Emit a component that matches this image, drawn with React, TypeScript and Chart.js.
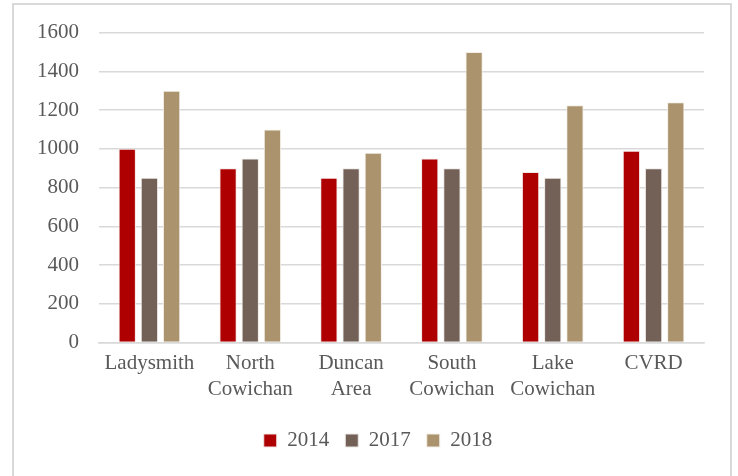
import React, { useEffect, useRef } from "react";
import { Chart, registerables } from "chart.js";

Chart.register(...registerables);

const categories: string[][] = [
  ["Ladysmith"],
  ["North", "Cowichan"],
  ["Duncan", "Area"],
  ["South", "Cowichan"],
  ["Lake", "Cowichan"],
  ["CVRD"],
];
const values2014 = [1000, 900, 850, 950, 880, 990];
const values2017 = [850, 950, 900, 900, 850, 900];
const values2018 = [1300, 1100, 980, 1500, 1225, 1240];
const seriesLabels = ["2014", "2017", "2018"];
const yTicks = [0, 200, 400, 600, 800, 1000, 1200, 1400, 1600];

const legendShift = {
  id: "legendShift",
  afterLayout(chart: any) {
    if (chart.legend) chart.legend.left += 52;
  },
};

export default function App() {
  const ref = useRef<HTMLCanvasElement | null>(null);
  useEffect(() => {
    document.body.style.margin = "0";
    const font = { family: "'Liberation Serif', 'Times New Roman', serif", size: 21 };
    const chart = new Chart(ref.current!, {
      type: "bar",
      data: {
        labels: categories,
        datasets: [
          { label: seriesLabels[0], data: values2014, backgroundColor: "#AE0000", borderColor: "#f3e6e6", borderWidth: 1 },
          { label: seriesLabels[1], data: values2017, backgroundColor: "#736056", borderColor: "#ece8e6", borderWidth: 1 },
          { label: seriesLabels[2], data: values2018, backgroundColor: "#AB936D", borderColor: "#f3efe8", borderWidth: 1 },
        ],
      },
      plugins: [legendShift],
      options: {
        animation: false,
        responsive: false,
        devicePixelRatio: 1,
        layout: { padding: { left: 0, right: 34, top: 23, bottom: 15 } },
        datasets: { bar: { categoryPercentage: 0.66, barPercentage: 0.78 } },
        plugins: {
          tooltip: { enabled: false },
          legend: {
            position: "bottom",
            labels: {
              font,
              color: "#595959",
              boxWidth: 13,
              boxHeight: 13,
              padding: 16,
            },
          },
        },
        scales: {
          x: {
            grid: { display: false },
            border: { color: "#d9d9d9", width: 1.5 },
            ticks: { font: { ...font, lineHeight: 1.25 }, color: "#595959", maxRotation: 0, padding: 0 },
            afterFit: (axis: any) => {
              axis.height += 11;
            },
          },
          y: {
            min: 0,
            max: 1600,
            afterBuildTicks: (axis: any) => {
              axis.ticks = yTicks.map((v) => ({ value: v }));
            },
            afterFit: (axis: any) => {
              axis.width = 99;
            },
            grid: { color: "#d9d9d9", lineWidth: 1.5, drawTicks: false },
            border: { display: false },
            ticks: { font, color: "#595959", padding: 20, callback: (v: any) => String(v) },
          },
        },
      },
    });
    return () => chart.destroy();
  }, []);
  return (
    <div style={{ position: "relative", width: 738, height: 476, overflow: "hidden", background: "#fff" }}>
      <div
        style={{
          position: "absolute",
          left: 12,
          top: 3,
          width: 720,
          height: 490,
          border: "2px solid #d9d9d9",
          boxSizing: "border-box",
        }}
      />
      <canvas ref={ref} width={738} height={476} style={{ position: "absolute", left: 0, top: 0 }} />
    </div>
  );
}
